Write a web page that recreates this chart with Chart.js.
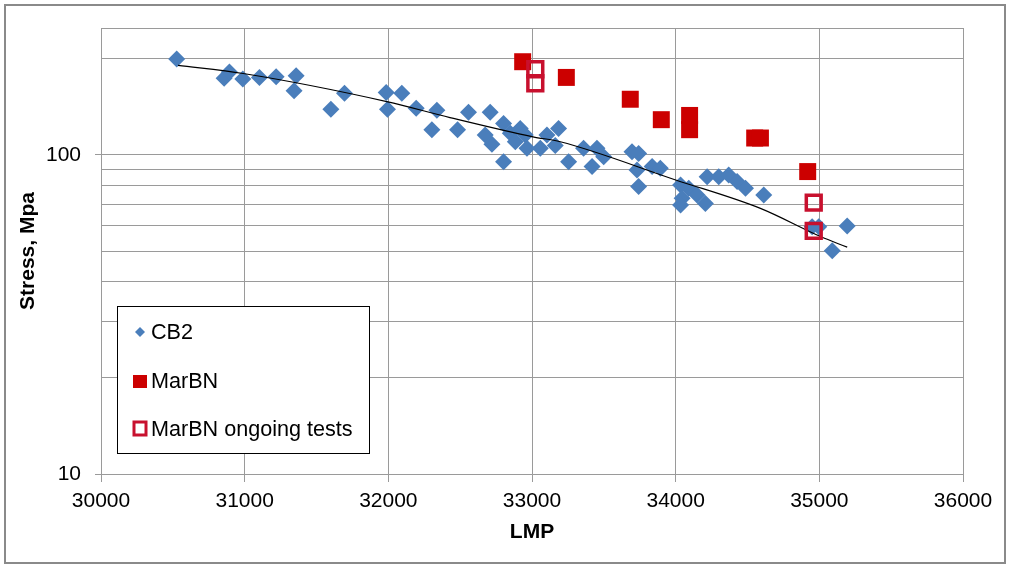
<!DOCTYPE html>
<html>
<head>
<meta charset="utf-8">
<style>
  body { margin: 0; background: #fff; }
  #wrap { position: relative; width: 1009px; height: 565px; }
</style>
</head>
<body>
<div id="wrap">
  <canvas id="myChart"></canvas>
</div>

<script src="https://cdn.jsdelivr.net/npm/chart.js"></script>

<script>
// values
const cb2Lmp = [30527,30857,30894,30987,31103,31219,31358,31344,31600,31695,31985,32094,31994,32194,32338,32303,
                32482,32558,32709,32674,32721,32802,32802,32849,32884,32918,32965,32953,33058,33104,33185,33162,
                33255,33359,33452,33499,33418,33696,33742,33731,33836,33893,33742,34034,34091,34045,34149,34034,
                34207,34219,34300,34369,34428,34486,34613,34950,34996,35194,35090];
const cb2Stress = [200,174,182,173,175,176,177,159,139,156,157,156,139,140,138,120,
                   120,136,136,115.5,108,95.3,125.6,117,110,121,105,115.5,105,115.5,121,107,
                   95.3,105,105,98.8,92,102.4,101,89.7,92,90.8,79.6,80.5,78.7,73.2,74.9,69.7,
                   70.5,85.5,85.5,86.5,82.5,78.7,74.9,59.6,59.6,59.9,50.1];

const marbnLmp    = [32935,33239,33684,33900,34097,34097,34550,34590,34919];
const marbnStress = [196,175,149.5,129,133,120,113,113,88.7];

const ongoingLmp    = [33023,33023,34961,34961];
const ongoingStress = [185.6,167.8,70.9,57.8];

const trendLmp    = [30536,30990,31989,32429,33007,33197,34000,34590,35008,35194];
const trendStress = [191,180,147,131,114,110,83.5,68,55.5,51.4];

const xTicks = [30000,31000,32000,33000,34000,35000,36000];
const yTicks = [10,20,30,40,50,60,70,80,90,100,200,250];
const yLabels = [10,100];

const toPoints = (xs, ys) => xs.map((x, i) => ({x: x, y: ys[i]}));

const FONT = '"Liberation Sans", Arial, sans-serif';
const BLUE = '#4A7EBB';
const RED = '#CC0000';
const CRIMSON = '#C8102E';
const GRID = '#9a9a9a';

// white page + outer frame
const frame = {
  id: 'frame',
  beforeDraw(chart) {
    const c = chart.ctx;
    c.save();
    c.fillStyle = '#fff';
    c.fillRect(0, 0, chart.width, chart.height);
    c.strokeStyle = '#8a8a8a';
    c.lineWidth = 2;
    c.strokeRect(5, 5, 1000, 558);
    c.restore();
  }
};

// legend box inside the plot area
const boxLegend = {
  id: 'boxLegend',
  afterDraw(chart) {
    const c = chart.ctx;
    const ds = chart.data.datasets;
    c.save();
    c.fillStyle = '#fff';
    c.fillRect(117.5, 306.5, 252, 147);
    c.strokeStyle = '#000';
    c.lineWidth = 1;
    c.strokeRect(117.5, 306.5, 252, 147);

    // diamond
    c.fillStyle = BLUE;
    c.beginPath();
    c.moveTo(140, 327); c.lineTo(145, 332); c.lineTo(140, 337); c.lineTo(135, 332);
    c.closePath(); c.fill();
    // filled square
    c.fillStyle = RED;
    c.fillRect(133, 375, 14, 13);
    // hollow square
    c.strokeStyle = CRIMSON;
    c.lineWidth = 3;
    c.strokeRect(134, 422, 12, 13);

    c.fillStyle = '#000';
    c.font = '21.6px ' + FONT;
    c.textBaseline = 'middle';
    c.textAlign = 'left';
    c.fillText(ds[3].label, 151, 333);
    c.fillText(ds[1].label, 151, 382);
    c.fillText(ds[0].label, 151, 430);
    c.restore();
  }
};

const ctx = document.getElementById('myChart');
new Chart(ctx, {
  type: 'scatter',
  data: {
    datasets: [
      {
        label: 'MarBN ongoing tests',
        data: toPoints(ongoingLmp, ongoingStress),
        pointStyle: 'rect',
        pointRadius: 10.5,
        pointHoverRadius: 10.5,
        backgroundColor: 'rgba(0,0,0,0)',
        borderColor: CRIMSON,
        borderWidth: 3.5,
        order: 0
      },
      {
        label: 'MarBN',
        data: toPoints(marbnLmp, marbnStress),
        pointStyle: 'rect',
        pointRadius: 12,
        pointHoverRadius: 12,
        backgroundColor: RED,
        borderWidth: 0,
        order: 1
      },
      {
        label: 'trend',
        type: 'line',
        data: toPoints(trendLmp, trendStress),
        showLine: true,
        pointRadius: 0,
        borderColor: '#000',
        borderWidth: 1.2,
        cubicInterpolationMode: 'monotone',
        fill: false,
        order: 2
      },
      {
        label: 'CB2',
        data: toPoints(cb2Lmp, cb2Stress),
        pointStyle: 'rectRot',
        pointRadius: 8.5,
        pointHoverRadius: 8.5,
        backgroundColor: BLUE,
        borderWidth: 0,
        order: 3
      }
    ]
  },
  options: {
    responsive: true,
    maintainAspectRatio: false,
    animation: false,
    events: [],
    layout: { padding: { left: 0, top: 28, right: 46, bottom: 0 } },
    plugins: {
      legend: { display: false },
      tooltip: { enabled: false }
    },
    scales: {
      x: {
        type: 'linear',
        min: 30000,
        max: 36000,
        afterFit: (s) => { s.height = 91; },
        afterBuildTicks: (s) => { s.ticks = xTicks.map(v => ({value: v})); },
        ticks: {
          color: '#000',
          font: { family: FONT, size: 21 },
          padding: 7,
          maxRotation: 0,
          autoSkip: false,
          callback: (v) => String(v)
        },
        grid: { color: GRID, tickColor: GRID, tickLength: 8 },
        border: { color: GRID },
        title: {
          display: true,
          text: 'LMP',
          color: '#000',
          font: { family: FONT, size: 21, weight: 'bold' },
          padding: { top: 0, bottom: 20 }
        }
      },
      y: {
        type: 'logarithmic',
        min: 10,
        max: 250,
        afterFit: (s) => { s.width = 101; },
        afterBuildTicks: (s) => { s.ticks = yTicks.map(v => ({value: v})); },
        ticks: {
          color: '#000',
          font: { family: FONT, size: 21 },
          padding: 14,
          autoSkip: false,
          callback: (v) => yLabels.includes(v) ? String(v) : ''
        },
        grid: {
          color: GRID,
          tickLength: 6,
          tickColor: (c) => (c.tick && yLabels.includes(c.tick.value)) ? GRID : 'rgba(0,0,0,0)'
        },
        border: { color: GRID },
        title: {
          display: true,
          text: 'Stress, Mpa',
          color: '#000',
          font: { family: FONT, size: 21, weight: 'bold' },
          padding: { top: 16, bottom: 0 }
        }
      }
    }
  },
  plugins: [frame, boxLegend]
});
</script>
</body>
</html>
